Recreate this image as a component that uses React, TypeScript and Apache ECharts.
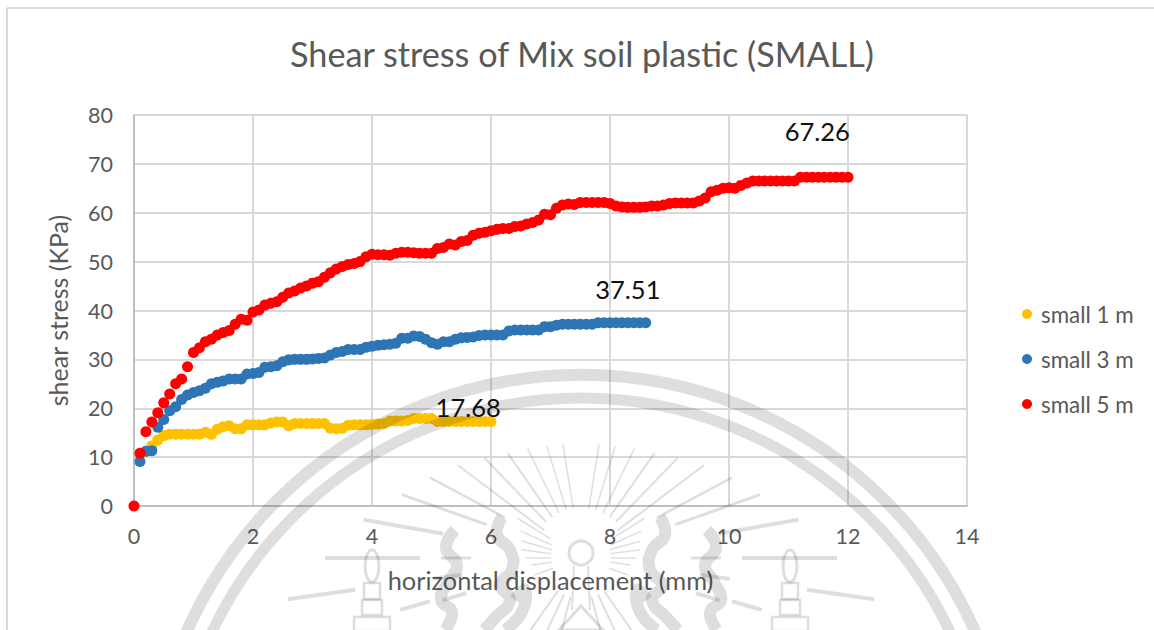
import React, { useEffect, useRef } from "react";
import * as echarts from "echarts";

const FONT = "Lato";
const titleText = "Shear stress of Mix soil plastic (SMALL)";
const xName = "horizontal displacement (mm)";
const yName = "shear stress (KPa)";
const stepMm = 0.1;

// shear stress per 0.1 mm of displacement, starting at 0.1 mm
const small1m = [
  10.7, 11.1, 12.3, 13.5, 14.4, 14.7, 14.7, 14.7, 14.7,
  14.7, 14.7, 15.1, 14.7, 15.7, 16.2, 16.4, 15.8, 15.8, 16.6,
  16.6, 16.6, 16.6, 17.0, 17.2, 17.2, 16.4, 16.9, 16.9, 16.9,
  16.9, 16.9, 16.9, 15.9, 15.8, 15.9, 16.5, 16.6, 16.6, 16.6,
  16.7, 16.8, 16.9, 17.4, 17.4, 17.4, 17.5, 17.9, 17.9, 17.9,
  17.9, 17.3, 17.3, 17.3, 17.3, 17.3, 17.3, 17.3, 17.3, 17.3,
  17.3,
];
const small3m = [
  9.1, 11.2, 11.3, 16.1, 17.7, 19.5, 20.3, 21.8, 22.7,
  23.2, 23.6, 24.1, 25.0, 25.3, 25.6, 26.0, 26.0, 26.0, 27.0,
  27.1, 27.3, 28.4, 28.5, 28.7, 29.5, 29.9, 30.0, 30.0, 30.0,
  30.1, 30.2, 30.3, 30.9, 31.4, 31.6, 32.0, 32.0, 32.0, 32.5,
  32.7, 32.9, 33.0, 33.1, 33.3, 34.3, 34.3, 34.8, 34.7, 34.1,
  33.4, 33.1, 33.6, 33.6, 34.1, 34.4, 34.5, 34.6, 34.9, 35.0,
  35.0, 35.0, 35.0, 35.8, 36.0, 36.0, 36.0, 36.0, 36.0, 36.7,
  36.7, 37.0, 37.2, 37.2, 37.2, 37.2, 37.2, 37.2, 37.51, 37.51,
  37.51, 37.51, 37.51, 37.51, 37.51, 37.51, 37.51,
];
// starts at 0 mm
const small5m = [
  0,
  10.8, 15.2, 17.2, 19.1, 21.1, 22.9, 25.0, 26.0, 28.5,
  31.4, 32.4, 33.6, 34.1, 35.0, 35.5, 35.9, 37.2, 38.2, 38.0,
  39.7, 40.1, 41.1, 41.5, 41.8, 42.7, 43.6, 44.0, 44.6, 45.0,
  45.6, 45.9, 46.8, 47.7, 48.5, 49.0, 49.4, 49.6, 50.0, 51.0,
  51.5, 51.4, 51.4, 51.3, 51.7, 51.9, 51.9, 51.8, 51.7, 51.7,
  51.7, 52.7, 52.9, 53.6, 53.4, 54.1, 54.3, 55.4, 55.8, 56.0,
  56.3, 56.6, 56.8, 56.8, 57.2, 57.3, 57.7, 58.0, 58.5, 59.7,
  59.6, 60.9, 61.6, 61.8, 61.7, 62.1, 62.1, 62.1, 62.1, 62.1,
  61.9, 61.4, 61.2, 61.1, 61.1, 61.1, 61.2, 61.4, 61.4, 61.6,
  61.9, 62.0, 62.0, 62.0, 62.0, 62.4, 63.0, 64.3, 64.6, 65.0,
  65.1, 65.0, 65.6, 66.1, 66.5, 66.5, 66.5, 66.5, 66.5, 66.5,
  66.5, 66.5, 67.26, 67.26, 67.26, 67.26, 67.26, 67.26, 67.26, 67.26,
  67.26,
];

const seriesNames = ["small 1 m", "small 3 m", "small 5 m"];
const seriesColors = ["#FFC000", "#2E75B6", "#FF0000"];
const peakLabels = ["17.68", "37.51", "67.26"];
const peakAtMm = [5.6, 8.3, 11.5];
const peakOffsets = [[1, -14], [0, -34], [-1, -46]];

// ---- faint seal printed over the page ----
const WM = "rgba(0,0,0,0.13)";
const AXIS_X = 581;
const SUN_Y = 558;
// [degrees above horizontal, inner radius, outer radius, width]; drawn on both sides
const rays = [
  [0, 161, 256, 4], [0, 110, 140, 3], [19.5, 100, 190, 3], [10, 140, 221, 4],
  [28, 86, 171, 2.5], [37, 46, 154, 2], [46, 50, 139, 2], [55, 50, 128, 2],
  [64, 50, 122, 1.5], [73, 50, 117, 1.5], [81, 50, 115, 1.5], [-8, 228, 296, 4],
  [-16, 157, 188, 4], [-8, 120, 150, 4], [-17, 120, 145, 4], [-55, 40, 90, 2],
  [-65, 40, 90, 2], [-75, 40, 80, 2], [0, 30, 55, 1.5], [8, 30, 60, 1.5],
  [16, 30, 62, 1.5], [24, 32, 66, 1.5], [32, 36, 75, 1.5], [-8, 30, 50, 1.5],
  [-20, 30, 50, 1.5],
];
const flames = [
  [[455, 530], [446, 548], [457, 565], [448, 582], [441, 600], [452, 612], [445, 630]],
  [[502, 517], [497, 535], [510, 550], [512, 570], [500, 585], [510, 600], [495, 618], [484, 630]],
  [[515, 600], [525, 590], [522, 612], [505, 630]],
];
const torchBoxes = [[-8, 583, 16, 16], [-10, 600, 20, 15], [-18, 617, 36, 14]];
const TORCH_DX = 209;

function sealElements() {
  const els: any[] = [];
  const common = { silent: true, z: 100 };
  const stroke = (lineWidth: number) => ({ stroke: WM, fill: "none", lineWidth });
  els.push({ type: "arc", ...common, shape: { cx: AXIS_X, cy: 806, r: 431, startAngle: Math.PI, endAngle: 2 * Math.PI }, style: stroke(12) });
  els.push({ type: "arc", ...common, shape: { cx: AXIS_X, cy: 806, r: 408, startAngle: Math.PI, endAngle: 2 * Math.PI }, style: stroke(11) });
  for (const side of [-1, 1]) {
    for (const [deg, r0, r1, w] of rays) {
      const a = (deg * Math.PI) / 180;
      els.push({
        type: "line", ...common,
        shape: {
          x1: AXIS_X + side * r0 * Math.cos(a), y1: SUN_Y - r0 * Math.sin(a),
          x2: AXIS_X + side * r1 * Math.cos(a), y2: SUN_Y - r1 * Math.sin(a),
        },
        style: stroke(w),
      });
    }
    for (const pts of flames) {
      els.push({
        type: "polyline", ...common,
        shape: { points: pts.map(([x, y]) => [AXIS_X + (side < 0 ? x - AXIS_X : AXIS_X - x), y]), smooth: 0.5 },
        style: stroke(12),
      });
    }
    const tx = AXIS_X + side * TORCH_DX;
    els.push({ type: "ellipse", ...common, shape: { cx: tx, cy: 566, rx: 7, ry: 16 }, style: stroke(3) });
    for (const [dx, y, w, h] of torchBoxes) {
      els.push({ type: "rect", ...common, shape: { x: tx + dx, y, width: w, height: h }, style: stroke(2.5) });
    }
    els.push({ type: "line", ...common, shape: { x1: AXIS_X + side * 7, y1: 566, x2: AXIS_X + side * 9, y2: 610 }, style: stroke(2) });
  }
  els.push({ type: "circle", ...common, shape: { cx: AXIS_X, cy: 553, r: 12 }, style: stroke(3) });
  els.push({ type: "polygon", ...common, shape: { points: [[AXIS_X, 606], [AXIS_X + 22, 630], [AXIS_X - 22, 630]] }, style: stroke(3) });
  return els;
}

function toSeries(index: number, ys: number[], startMm: number) {
  const data = ys.map((v, i) => {
    const x = Math.round((startMm + i * stepMm) * 10) / 10;
    const item: any = { value: [x, v] };
    if (x === peakAtMm[index]) {
      item.label = {
        show: true,
        formatter: peakLabels[index],
        position: "inside",
        offset: peakOffsets[index],
        color: "#111111",
        fontFamily: FONT,
        fontSize: 25.5,
      };
    }
    return item;
  });
  return {
    type: "scatter",
    name: seriesNames[index],
    data,
    symbol: "circle",
    symbolSize: 11,
    z: 2 + index,
    itemStyle: { color: seriesColors[index], opacity: 1 },
    emphasis: { disabled: true },
  };
}

export default function App() {
  const ref = useRef<HTMLDivElement>(null);
  useEffect(() => {
    const chart = echarts.init(ref.current!, undefined, { renderer: "svg" });
    chart.setOption({
      animation: false,
      backgroundColor: "#ffffff",
      title: {
        text: titleText,
        left: 577,
        top: 31,
        textAlign: "center",
        textStyle: { fontFamily: FONT, fontSize: 34.2, fontWeight: "normal", color: "#595959" },
      },
      grid: { left: 134, right: 187, top: 115, bottom: 124, containLabel: false },
      legend: {
        orient: "vertical",
        left: 1017,
        top: 298,
        itemWidth: 10,
        itemHeight: 10,
        itemGap: 23,
        icon: "circle",
        data: seriesNames,
        textStyle: { fontFamily: FONT, fontSize: 22.4, color: "#595959", padding: [0, 0, 0, 4], lineHeight: 22 },
      },
      xAxis: {
        type: "value",
        min: 0,
        max: 14,
        interval: 2,
        name: xName,
        nameLocation: "middle",
        nameGap: 61,
        nameTextStyle: { fontFamily: FONT, fontSize: 25.4, color: "#595959" },
        axisLine: { show: true, onZero: false, lineStyle: { color: "#BFBFBF", width: 2 } },
        axisTick: { show: false },
        axisLabel: { fontFamily: FONT, fontSize: 21.5, color: "#595959", margin: 19 },
        splitLine: { show: true, lineStyle: { color: "#D9D9D9", width: 2 } },
      },
      yAxis: {
        type: "value",
        min: 0,
        max: 80,
        interval: 10,
        name: yName,
        nameLocation: "middle",
        nameGap: 64,
        nameTextStyle: { fontFamily: FONT, fontSize: 25, color: "#595959" },
        axisLine: { show: true, onZero: false, lineStyle: { color: "#BFBFBF", width: 2 } },
        axisTick: { show: false },
        axisLabel: { fontFamily: FONT, fontSize: 21.5, color: "#595959", margin: 21 },
        splitLine: { show: true, lineStyle: { color: "#D9D9D9", width: 2 } },
      },
      series: [
        toSeries(0, small1m, 0.1),
        toSeries(1, small3m, 0.1),
        toSeries(2, small5m, 0),
      ],
      graphic: [
        { type: "line", silent: true, shape: { x1: 7, y1: 8, x2: 1154, y2: 8 }, style: { stroke: "#D9D9D9", lineWidth: 2 } },
        { type: "line", silent: true, shape: { x1: 7, y1: 8, x2: 7, y2: 630 }, style: { stroke: "#D9D9D9", lineWidth: 2 } },
        ...sealElements(),
      ],
    });
    return () => chart.dispose();
  }, []);
  return <div ref={ref} style={{ position: "fixed", left: 0, top: 0, width: 1154, height: 630 }} />;
}
